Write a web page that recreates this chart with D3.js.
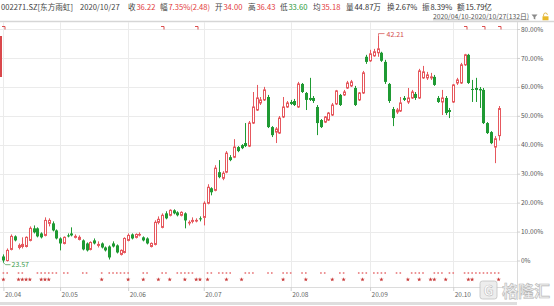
<!DOCTYPE html>
<html><head><meta charset="utf-8">
<script src="https://cdn.jsdelivr.net/npm/d3@7"></script>
<style>body{margin:0;background:#fff;}svg{display:block;}</style>
</head><body>
<svg id="c" width="554" height="306"></svg>
<script>
// ---------- DATA ----------
const months = ["2020-04","2020-05","2020-06","2020-07","2020-08","2020-09","2020-10"];
const monthLabels = ["20.04","20.05","20.06","20.07","20.08","20.09","20.10"];
const monthDays = [
  [10,13,14,15,16,17,20,21,22,23,24,27,28,29,30],
  [6,7,8,11,12,13,14,15,18,19,20,21,22,25,26,27,28,29],
  [1,2,3,4,5,8,9,10,11,12,15,16,17,18,19,22,23,24,29,30],
  [1,2,3,6,7,8,9,10,13,14,15,16,17,20,21,22,23,24,27,28,29,30,31],
  [3,4,5,6,7,10,11,12,13,14,17,18,19,20,21,24,25,26,27,28,31],
  [1,2,3,4,7,8,9,10,11,14,15,16,17,18,21,22,23,24,25,28,29,30],
  [9,12,13,14,15,16,19,20,21,22,23,26,27]
];
const dates = months.flatMap((m,k)=>monthDays[k].map(d=>m+"-"+String(d).padStart(2,"0")));

const opens = [24.08,23.75,24.66,25.73,24.82,24.90,24.90,25.40,26.39,26.39,
25.97,25.81,26.80,26.80,26.22,25.56,25.15,25.81,25.97,25.65,
25.48,25.40,25.15,24.66,25.40,24.99,25.15,24.82,24.90,25.15,
24.99,24.25,24.41,25.40,25.89,25.65,25.85,25.65,25.56,24.90,
25.07,26.88,26.47,27.62,27.46,27.87,27.70,27.46,27.62,26.84,
26.96,27.00,27.21,27.29,28.45,29.68,29.51,31.00,30.50,31.00,
32.23,32.23,33.06,33.22,33.39,33.14,35.03,36.10,36.68,36.93,
37.17,34.70,34.29,34.21,35.53,36.35,36.76,36.84,36.35,38.24,
37.50,37.09,37.09,36.35,35.28,35.11,35.28,35.69,36.60,37.34,
37.34,37.91,38.08,37.91,36.93,37.50,40.47,40.14,40.55,40.80,
40.80,40.05,38.24,36.18,35.94,36.02,37.09,36.76,37.09,37.42,
37.09,38.74,38.74,38.74,38.82,37.09,36.76,37.09,36.10,36.76,
38.32,38.32,39.81,40.63,37.83,37.91,37.83,37.75,35.03,34.29,
33.06,34.00];
const closes = [23.75,24.58,25.73,25.40,24.99,25.07,25.65,26.39,26.06,25.73,
25.65,27.04,27.04,26.22,25.56,25.15,25.65,25.73,25.81,25.73,
25.65,24.66,24.58,25.23,25.15,25.07,24.82,24.58,24.00,24.90,
24.41,24.58,25.56,25.81,25.56,25.89,25.89,25.40,25.15,25.15,
26.88,27.13,27.46,27.21,27.87,27.62,27.46,27.70,27.04,26.88,
27.04,27.04,27.13,28.45,29.76,29.35,31.33,30.59,30.91,32.56,
31.99,33.06,32.73,32.97,33.14,35.03,36.35,37.09,36.93,37.75,
34.70,34.04,34.54,35.44,36.35,36.68,36.60,36.51,38.24,37.58,
36.93,36.93,36.84,35.03,34.70,35.53,35.85,36.51,37.67,36.51,
37.58,38.32,38.41,36.51,37.50,39.15,40.05,40.71,40.88,41.12,
40.14,38.41,36.84,35.44,36.10,36.68,36.93,37.09,37.58,37.09,
39.31,39.23,38.98,38.82,38.16,36.76,37.09,35.85,35.94,38.16,
38.57,39.81,40.63,38.32,37.75,37.75,37.71,35.03,34.21,33.38,
33.74,36.22];
const highs = [24.25,24.74,25.89,25.81,25.15,25.65,25.73,26.55,26.63,26.47,
26.06,27.29,27.21,26.96,26.30,25.65,25.73,25.97,26.47,25.89,
25.81,25.48,25.23,25.32,25.56,25.32,25.23,24.90,24.99,25.32,
25.07,24.66,25.65,25.97,25.97,25.97,26.06,25.73,25.65,25.23,
27.05,27.37,27.62,27.79,27.95,27.95,27.79,27.79,27.70,27.04,
27.29,27.21,27.37,28.61,30.01,29.76,31.57,31.99,31.08,32.73,
32.40,33.71,33.14,33.30,35.03,35.20,37.58,38.16,37.17,38.00,
37.34,34.78,34.70,35.61,37.17,36.84,36.93,37.01,38.41,38.32,
37.58,38.74,37.25,36.51,35.36,35.61,35.94,36.68,37.75,37.42,
37.75,38.49,38.57,38.08,37.58,39.31,40.63,41.04,41.12,42.21,
40.88,40.22,38.32,36.35,36.27,37.17,37.25,37.91,37.75,37.58,
39.48,39.72,39.23,39.15,38.98,37.25,37.75,37.25,36.27,38.24,
38.74,39.97,40.71,40.71,38.57,38.74,37.99,37.91,35.11,34.37,
33.96,36.43];
const lows = [23.57,23.67,24.58,25.32,24.66,24.74,24.82,25.32,25.97,25.65,
25.56,25.73,26.55,26.14,25.48,24.58,25.07,25.65,25.73,25.56,
25.40,24.58,24.49,24.58,25.07,24.82,24.74,24.49,23.83,24.82,
24.33,24.16,24.33,25.32,25.48,25.56,25.73,25.32,25.07,24.82,
24.99,26.72,26.39,27.13,27.37,27.54,27.37,27.37,26.39,26.63,
26.80,26.88,26.96,26.63,28.36,29.10,29.43,30.50,30.34,30.91,
31.90,32.15,32.64,32.89,33.06,33.06,34.95,36.02,36.51,36.84,
34.62,33.88,33.39,34.13,35.44,36.27,36.51,36.43,36.27,37.50,
36.10,36.84,36.68,34.04,34.62,35.03,35.20,35.61,36.51,36.43,
37.25,37.83,37.99,36.43,36.84,37.42,39.89,40.05,40.47,40.47,
40.05,38.24,36.68,34.78,35.77,35.94,36.84,36.60,37.01,36.93,
37.01,38.66,38.57,38.57,38.08,36.68,35.69,35.69,35.44,36.68,
38.16,38.24,39.72,38.24,36.76,36.76,36.27,34.95,34.13,33.30,
31.74,33.60];
const basePrice = 23.75;
const yTicks = [0,0.1,0.2,0.3,0.4,0.5,0.6,0.7,0.8];

// event markers (trading-day indices)
const dotDays = [0,1,4,5,9,10,11,12,13,14,16,17,21,22,26,28,29,30,31,32,33,37,38,42,43,46,47,48,49,50,54,55,57,58,59,60,64,65,66,70,71,74,75,76,79,80,84,85,89,90,94,95,96,98,99,100,101,104,105,108,109,110,111,114,115,116,118,119,122,123,124,125,126,127,128,129,130,131];
const starDays = [0,4,5,6,7,10,11,12,26,33,37,41,44,48,51,52,54,59,63,74,80,87,90,95,100,107,110,113,114,117,123,124,131];
const flagDays = [0,42,51,122,127,131];

// header
const headTitle = "002271.SZ[东方雨虹]";
const headDate = "2020/10/27";
const headLabels = ["收","幅","开","高","低","均","量","换","振","额"];
const headValues = ["36.22","7.35%(2.48)","34.00","36.43","33.60","35.18","44.87万","2.67%","8.39%","15.79亿"];
const headTone = ["up","up","up","up","down","up","flat","flat","flat","flat"];
const rangeText = "2020/04/10-2020/10/27(132日)";
const watermark = "格隆汇";

// ---------- LAYOUT ----------
const FONT = "'Noto Sans CJK SC','Noto Sans',sans-serif";
const UP = "#e6585e", DOWN = "#1f9a33", GRID = "#ebebeb";
const plotR = 517, plotT = 22, plotB = 287;
const headX = [128,160,215,248,280,313,346,387,422,457];
const toneColor = {up:"#e23b3b", down:"#2a9a3a", flat:"#333"};

const svg = d3.select("#c");
const x = d3.scalePoint().domain(dates).range([3.4, 498.6]);
const y = d3.scaleLinear().domain([0, 0.8]).range([260.5, 29]);
const py = p => y(p / basePrice - 1);

// header
const hd = svg.append("g").attr("font-family", FONT).attr("font-size", 7.6);
hd.append("text").attr("x", 1).attr("y", 9.5).attr("fill", "#444").text(headTitle);
hd.append("text").attr("x", 80).attr("y", 9.5).attr("fill", "#444").text(headDate);
headLabels.forEach((l, i) => {
  const lt = hd.append("text").attr("x", headX[i]).attr("y", 9.5).attr("fill", "#444").text(l);
  const w = lt.node().getComputedTextLength();
  hd.append("text").attr("x", headX[i] + w + 0.8).attr("y", 9.5).attr("fill", toneColor[headTone[i]]).text(headValues[i]);
});
const rt = svg.append("text").attr("x", 433).attr("y", 18.6).attr("font-family", FONT)
  .attr("font-size", 6.8).attr("fill", "#555").text(rangeText);
const rtw = rt.node().getComputedTextLength();
svg.append("line").attr("x1", 433).attr("x2", 433 + rtw).attr("y1", 19.8).attr("y2", 19.8).attr("stroke", "#777").attr("stroke-width", 0.5);
// funnel icon + lock icon
svg.append("path").attr("d", "M531.5,14.5 h6 l-2.2,2.6 v2.4 l-1.6,-0.8 v-1.6 z").attr("fill", "#8a8a8a");
svg.append("path").attr("d", "M543.6,16.5 v-1.6 a1.9,1.9 0 0 1 3.8,0").attr("fill", "none").attr("stroke", "#d9a82a").attr("stroke-width", 0.8);
svg.append("rect").attr("x", 542.5).attr("y", 16.3).attr("width", 6).attr("height", 4).attr("fill", "#e8b828");

// top border
svg.append("line").attr("x1", 0).attr("x2", 554).attr("y1", 21.5).attr("y2", 21.5).attr("stroke", "#d6d6d6").attr("stroke-width", 1.5);

// grid
const monthStarts = months.map(m => dates.find(d => d.startsWith(m)));
svg.append("g").selectAll("line").data(yTicks).join("line")
  .attr("x1", 0).attr("x2", plotR)
  .attr("y1", d => Math.round(y(d)) + 0.5).attr("y2", d => Math.round(y(d)) + 0.5)
  .attr("stroke", GRID);
svg.append("g").selectAll("line").data(monthStarts).join("line")
  .attr("x1", d => Math.round(x(d)) + 0.5).attr("x2", d => Math.round(x(d)) + 0.5)
  .attr("y1", plotT).attr("y2", plotB)
  .attr("stroke", GRID);

// right axis
svg.append("line").attr("x1", plotR + 0.5).attr("x2", plotR + 0.5).attr("y1", plotT).attr("y2", 300).attr("stroke", "#dcdcdc");
const yAxis = d3.axisRight(y).tickValues(yTicks).tickSize(3).tickPadding(1)
  .tickFormat(d => d === 0 ? "0%" : (d * 100).toFixed(2) + "%");
const ya = svg.append("g").attr("transform", `translate(${plotR},0)`).call(yAxis);
ya.select(".domain").remove();
ya.selectAll(".tick line").attr("stroke", "#cfcfcf");
ya.selectAll("text").attr("font-family", FONT).attr("font-size", 6.5).attr("fill", "#555");

// bottom axis
svg.append("line").attr("x1", 0).attr("x2", plotR).attr("y1", plotB + 0.5).attr("y2", plotB + 0.5).attr("stroke", "#dcdcdc");
const xAxis = d3.axisBottom(x).tickValues(monthStarts).tickSize(4).tickPadding(2)
  .tickFormat((d, i) => monthLabels[i]);
const xa = svg.append("g").attr("transform", `translate(0,${plotB})`).call(xAxis);
xa.select(".domain").remove();
xa.selectAll(".tick line").attr("stroke", "#cfcfcf");
xa.selectAll("text").attr("font-family", FONT).attr("font-size", 6.5).attr("fill", "#666")
  .attr("text-anchor", "start").attr("dx", 1).attr("dy", "0.55em");
svg.append("rect").attr("x", 0).attr("y", 302).attr("width", plotR).attr("height", 3).attr("fill", "#dedede");

// left scroll indicator
svg.append("rect").attr("x", 0).attr("y", 36).attr("width", 2).attr("height", 41).attr("fill", "#d9484b");

// candles
const data = dates.map((d, i) => ({ d, o: opens[i], h: highs[i], l: lows[i], c: closes[i] }));
const cx = d => Math.round(x(d.d));
const up = d => d.c >= d.o;
const cg = svg.append("g");
cg.selectAll("line").data(data).join("line")
  .attr("x1", d => cx(d) + 0.5).attr("x2", d => cx(d) + 0.5)
  .attr("y1", d => py(d.h)).attr("y2", d => py(d.l))
  .attr("stroke", d => up(d) ? UP : DOWN).attr("stroke-width", 1);
cg.selectAll("rect").data(data).join("rect")
  .attr("x", d => up(d) ? cx(d) - 0.5 : cx(d) - 1)
  .attr("width", d => up(d) ? 2 : 3)
  .attr("y", d => py(Math.max(d.o, d.c)))
  .attr("height", d => Math.max(up(d) ? 0.6 : 1, Math.abs(py(d.o) - py(d.c))))
  .attr("fill", d => up(d) ? "#fff" : DOWN)
  .attr("stroke", d => up(d) ? UP : "none")
  .attr("stroke-width", 1);

// max / min annotations
const iMax = d3.maxIndex(highs), iMin = d3.minIndex(lows);
const mx = Math.round(x(dates[iMax])) + 0.5, my = py(highs[iMax]);
svg.append("path").attr("d", `M${mx},${my} v-2 h6`).attr("fill", "none").attr("stroke", "#d44c4c").attr("stroke-width", 0.7);
svg.append("text").attr("x", mx + 8).attr("y", my + 1.5).attr("font-family", FONT).attr("font-size", 7)
  .attr("fill", "#d44c4c").text(highs[iMax].toFixed(2));
const nx = Math.round(x(dates[iMin])) + 0.5, ny = py(lows[iMin]);
svg.append("path").attr("d", `M${nx},${ny} l2,2 h5`).attr("fill", "none").attr("stroke", "#3d9a48").attr("stroke-width", 0.7);
svg.append("text").attr("x", nx + 8).attr("y", ny + 4.5).attr("font-family", FONT).attr("font-size", 7)
  .attr("fill", "#3d9a48").text(lows[iMin].toFixed(2));

// event markers
svg.append("g").selectAll("rect").data(dotDays).join("rect")
  .attr("x", i => x(dates[i]) - 0.8).attr("y", 272.2).attr("width", 1.6).attr("height", 1.6)
  .attr("fill", "#e8787a");
svg.append("g").selectAll("path").data(starDays).join("path")
  .attr("transform", i => `translate(${x(dates[i])},279.5)`)
  .attr("d", d3.symbol(d3.symbolStar, 6)).attr("fill", "#c83a3a");
svg.append("g").selectAll("path").data(flagDays).join("path")
  .attr("d", i => `M${Math.round(x(dates[i])) - 1},26.5 h3 v3`)
  .attr("fill", "none").attr("stroke", "#d83c3c").attr("stroke-width", 0.9);

// watermark
const wm = svg.append("g").attr("opacity", 0.9);
wm.append("rect").attr("x", 480).attr("y", 281).attr("width", 17).attr("height", 18).attr("rx", 2.5)
  .attr("fill", "#ececec").attr("stroke", "#bdbdbd").attr("stroke-width", 0.8);
wm.append("text").attr("x", 488.5).attr("y", 295.5).attr("text-anchor", "middle").attr("font-family", FONT)
  .attr("font-size", 14).attr("font-weight", "bold").attr("fill", "#fff").attr("stroke", "#b5b5b5").attr("stroke-width", 0.6).text("G");
wm.append("text").attr("x", 502).attr("y", 297).attr("font-family", FONT).attr("font-size", 16).attr("font-weight", "bold")
  .attr("fill", "#efefef").attr("stroke", "#b0b0b0").attr("stroke-width", 0.6).text(watermark);
</script>
</body></html>
